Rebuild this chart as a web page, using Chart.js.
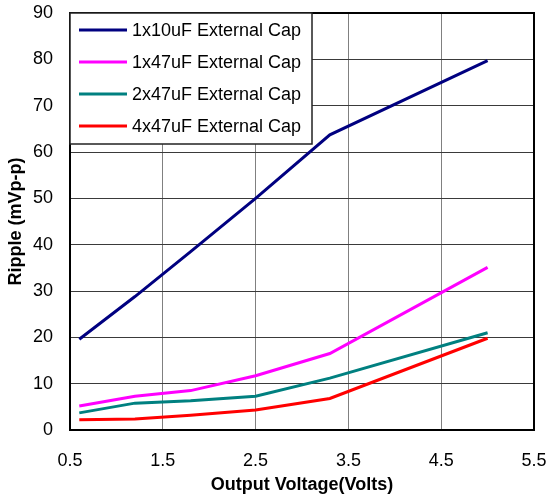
<!DOCTYPE html>
<html>
<head>
<meta charset="utf-8">
<script src="https://cdn.jsdelivr.net/npm/chart.js@4/dist/chart.umd.min.js"></script>
<style>
  body { margin: 0; background: #fff; }
  #wrap { width: 547px; height: 498px; position: relative; }
</style>
</head>
<body>
<div id="wrap"><canvas id="rippleChart"></canvas></div>
<script>
// values
const voltages = [0.6, 1.2, 1.8, 2.5, 3.3, 5.0];
const cap1x10 = [19.6, 28.8, 38.5, 50.0, 63.7, 79.7];
const cap1x47 = [5.2, 7.3, 8.5, 11.7, 16.5, 35.1];
const cap2x47 = [3.7, 5.8, 6.3, 7.3, 11.2, 21.0];
const cap4x47 = [2.2, 2.4, 3.2, 4.3, 6.8, 19.8];
const seriesNames = ['1x10uF External Cap', '1x47uF External Cap', '2x47uF External Cap', '4x47uF External Cap'];
const seriesColors = ['#000080', '#FF00FF', '#008080', '#FF0000'];

const FONT = 'Arial, "Liberation Sans", sans-serif';

function toPoints(vals) {
  return vals.map((v, i) => ({ x: voltages[i], y: v }));
}

// plot frame + legend box drawn inside the chart area
const frameAndLegend = {
  id: 'frameAndLegend',
  afterDatasetsDraw(chart) {
    const ctx = chart.ctx;
    const a = chart.chartArea;
    ctx.save();
    ctx.strokeStyle = '#000';
    ctx.lineWidth = 2;
    ctx.strokeRect(a.left, a.top, a.right - a.left, a.bottom - a.top);

    const bx = a.left, by = a.top, bw = 242, bh = 131;
    ctx.fillStyle = '#fff';
    ctx.fillRect(bx, by, bw, bh);
    ctx.lineWidth = 1.5;
    ctx.strokeStyle = '#222';
    ctx.strokeRect(bx, by, bw, bh);

    ctx.font = '18px ' + FONT;
    ctx.textBaseline = 'middle';
    ctx.textAlign = 'left';
    chart.data.datasets.forEach((ds, i) => {
      const y = by + 17 + i * 32;
      ctx.strokeStyle = ds.borderColor;
      ctx.lineWidth = 3;
      ctx.beginPath();
      ctx.moveTo(bx + 9, y);
      ctx.lineTo(bx + 57, y);
      ctx.stroke();
      ctx.fillStyle = '#000';
      ctx.fillText(ds.label, bx + 62, y + 1);
    });
    ctx.restore();
  }
};

const ctx = document.getElementById('rippleChart').getContext('2d');
new Chart(ctx, {
  type: 'line',
  data: {
    datasets: [cap1x10, cap1x47, cap2x47, cap4x47].map((vals, i) => ({
      label: seriesNames[i],
      data: toPoints(vals),
      borderColor: seriesColors[i],
      backgroundColor: seriesColors[i],
      borderWidth: 3,
      pointRadius: 0,
      tension: 0
    }))
  },
  options: {
    responsive: true,
    maintainAspectRatio: false,
    animation: false,
    layout: { padding: { top: 13, right: 13, left: 0, bottom: 0 } },
    plugins: {
      legend: { display: false },
      tooltip: { enabled: false }
    },
    scales: {
      x: {
        type: 'linear',
        min: 0.5,
        max: 5.5,
        afterFit: s => {
          s.height = 68;
          s.paddingLeft = 0; s.paddingRight = 0;
        },
        ticks: {
          stepSize: 1,
          color: '#000',
          padding: 20,
          font: { size: 18, family: FONT },
          callback: v => v.toFixed(1)
        },
        grid: { color: '#808080', lineWidth: 1, drawTicks: false },
        border: { display: false },
        title: {
          display: true,
          text: 'Output Voltage(Volts)',
          color: '#000',
          font: { size: 18, weight: 'bold', family: FONT },
          padding: { top: 0, bottom: 2 }
        }
      },
      y: {
        min: 0,
        max: 90,
        afterFit: s => {
          s.width = 70;
          s.paddingTop = 0; s.paddingBottom = 0;
        },
        ticks: {
          stepSize: 10,
          color: '#000',
          padding: 17,
          font: { size: 18, family: FONT }
        },
        grid: { color: '#3a3a3a', lineWidth: 1, drawTicks: false },
        border: { display: false },
        title: {
          display: true,
          text: 'Ripple (mVp-p)',
          color: '#000',
          font: { size: 18, weight: 'bold', family: FONT },
          padding: { top: 5, bottom: 0 }
        }
      }
    }
  },
  plugins: [frameAndLegend]
});
</script>
</body>
</html>
